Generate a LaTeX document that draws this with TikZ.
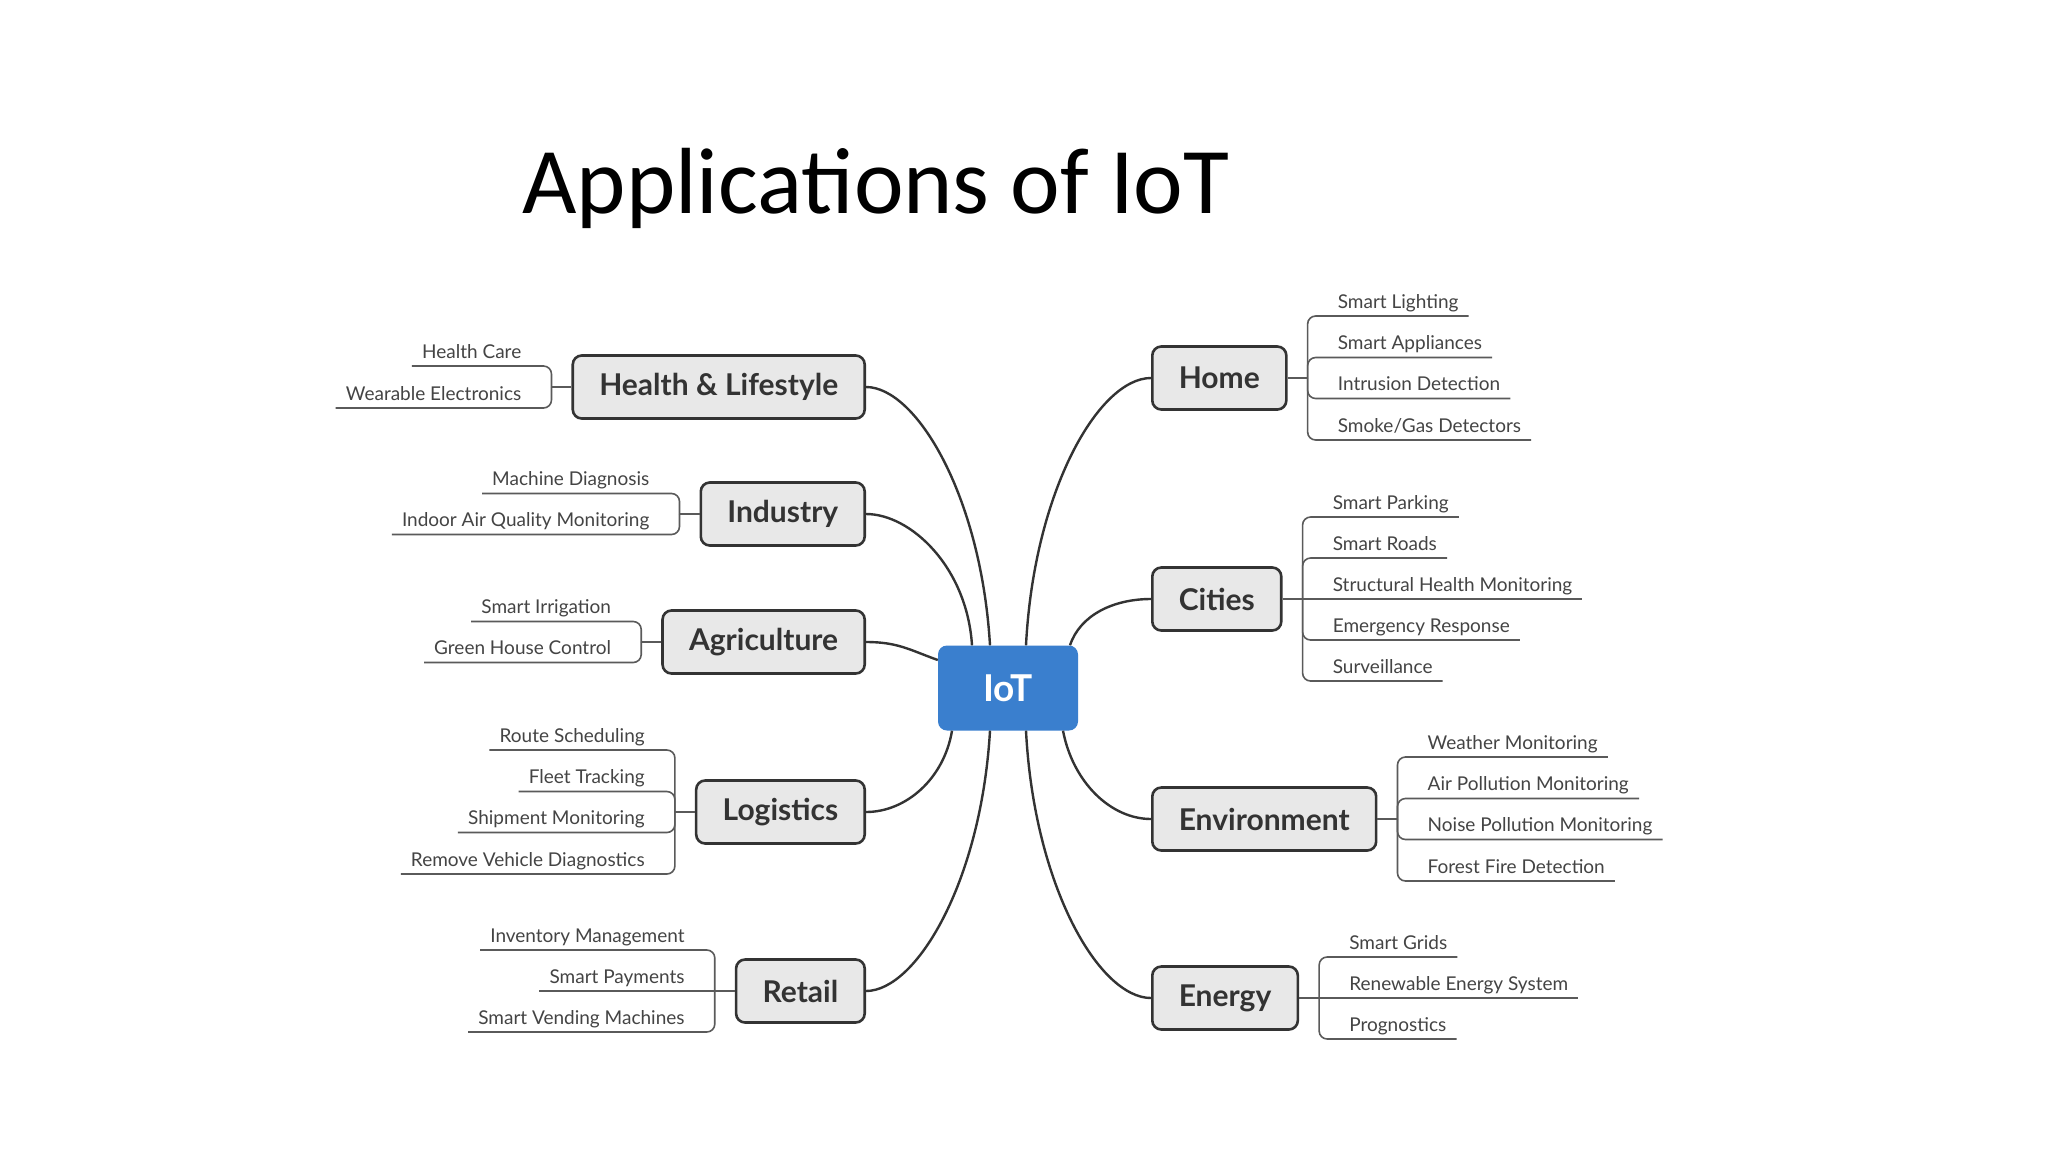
\documentclass[tikz,border=0pt]{standalone}
\usepackage{fontspec}
\setmainfont{Lato}
\newfontfamily\titlefont{Carlito}
\usetikzlibrary{calc}

\definecolor{iotblue}{HTML}{3A7FCE}
\definecolor{boxfill}{HTML}{E8E8E8}
\definecolor{ink}{HTML}{333333}
\definecolor{leafink}{HTML}{444444}
\definecolor{twigcol}{HTML}{5A5A5A}

\begin{document}
\begin{tikzpicture}[x=1pt, y=-1pt,
    hub/.style={fill=iotblue, text=white, rounded corners=9pt, minimum width=140pt, minimum height=85pt,
        font=\fontsize{37}{44}\selectfont\bfseries},
    area/.style={draw=ink, line width=2.6pt, fill=boxfill, rounded corners=9pt, minimum height=63pt,
        inner xsep=26.5pt, text=ink, font=\fontsize{30}{36}\selectfont\bfseries},
    leaf/.style={inner sep=0pt, text=leafink, font=\fontsize{19}{23}\selectfont},
    branch/.style={draw=ink, line width=2.4pt},
    twig/.style={draw=twigcol, line width=1.6pt, rounded corners=8pt}]
    \fill[white] (0,0) rectangle (2048,1152);
    \useasboundingbox (0,0) rectangle (2048,1152);

    \node[font=\titlefont\fontsize{94}{106}\selectfont, anchor=base] (title) at (876, 213) {Applications of IoT};

    \node[hub] (iot) at (1008, 688) {IoT};

    \node[area, anchor=east] (health) at (866, 387) {Health \& Lifestyle};
    \node[area, anchor=east] (industry) at (866, 514) {Industry};
    \node[area, anchor=east] (agri) at (866, 642) {Agriculture};
    \node[area, anchor=east] (logistics) at (866, 812) {Logistics};
    \node[area, anchor=east] (retail) at (866, 991) {Retail};
    \node[area, anchor=west] (home) at (1151, 378) {Home};
    \node[area, anchor=west] (cities) at (1151, 599) {Cities};
    \node[area, anchor=west] (env) at (1151, 819) {Environment};
    \node[area, anchor=west] (energy) at (1151, 998) {Energy};

    % branches out of the hub
    \draw[branch] ([xshift=-18pt]iot.north) .. controls +(-9,-150) and +(50,0) .. (health.east);
    \draw[branch] ([xshift=-36pt]iot.north) .. controls +(-5,-78) and +(45,0) .. (industry.east);
    \draw[branch] ([yshift=28pt]iot.west) .. controls +(-28,-10) and +(32,0) .. (agri.east);
    \draw[branch] ([xshift=-56pt]iot.south) .. controls +(-8,48) and +(40,0) .. (logistics.east);
    \draw[branch] ([xshift=-18pt]iot.south) .. controls +(-9,152) and +(50,0) .. (retail.east);
    \draw[branch] ([xshift=18pt]iot.north) .. controls +(8,-155) and +(-52,0) .. (home.west);
    \draw[branch] ([xshift=62pt]iot.north) .. controls +(10,-30) and +(-38,0) .. (cities.west);
    \draw[branch] ([xshift=55pt]iot.south) .. controls +(10,52) and +(-40,0) .. (env.west);
    \draw[branch] ([xshift=18pt]iot.south) .. controls +(8,155) and +(-52,0) .. (energy.west);

    % left side leaves
    \coordinate (healthb) at ([xshift=-20pt]health.west);
    \draw[twig] (health.west) -- (healthb);
    \foreach \t/\dy [count=\i] in {Health Care/-21, Wearable Electronics/21} {
        \node[leaf, anchor=base east] (health\i) at ($(healthb)+(-30,\dy-8)$) {\t};
        \draw[twig] (healthb) |- ($(health\i.base west)+(-10,8)$);
    }

    \coordinate (industryb) at ([xshift=-20pt]industry.west);
    \draw[twig] (industry.west) -- (industryb);
    \foreach \t/\dy [count=\i] in {Machine Diagnosis/-20.5, Indoor Air Quality Monitoring/20.5} {
        \node[leaf, anchor=base east] (industry\i) at ($(industryb)+(-30,\dy-8)$) {\t};
        \draw[twig] (industryb) |- ($(industry\i.base west)+(-10,8)$);
    }

    \coordinate (agrib) at ([xshift=-20pt]agri.west);
    \draw[twig] (agri.west) -- (agrib);
    \foreach \t/\dy [count=\i] in {Smart Irrigation/-20.5, Green House Control/20.5} {
        \node[leaf, anchor=base east] (agri\i) at ($(agrib)+(-30,\dy-8)$) {\t};
        \draw[twig] (agrib) |- ($(agri\i.base west)+(-10,8)$);
    }

    \coordinate (logisticsb) at ([xshift=-20pt]logistics.west);
    \draw[twig] (logistics.west) -- (logisticsb);
    \foreach \t/\dy [count=\i] in {Route Scheduling/-62, Fleet Tracking/-20.5, Shipment Monitoring/20.5,
            Remove Vehicle Diagnostics/62} {
        \node[leaf, anchor=base east] (logistics\i) at ($(logisticsb)+(-30,\dy-8)$) {\t};
        \draw[twig] (logisticsb) |- ($(logistics\i.base west)+(-10,8)$);
    }

    \coordinate (retailb) at ([xshift=-20pt]retail.west);
    \draw[twig] (retail.west) -- (retailb);
    \foreach \t/\dy [count=\i] in {Inventory Management/-41, Smart Payments/0, Smart Vending Machines/41} {
        \node[leaf, anchor=base east] (retail\i) at ($(retailb)+(-30,\dy-8)$) {\t};
        \ifdim\dy pt=0pt
            \draw[twig] (retailb) -- ($(retail\i.base west)+(-10,8)$);
        \else
            \draw[twig] (retailb) |- ($(retail\i.base west)+(-10,8)$);
        \fi
    }

    % right side leaves
    \coordinate (homeb) at ([xshift=20pt]home.east);
    \draw[twig] (home.east) -- (homeb);
    \foreach \t/\dy [count=\i] in {Smart Lighting/-62, Smart Appliances/-20.5, Intrusion Detection/20.5,
            {Smoke/Gas Detectors}/62} {
        \node[leaf, anchor=base west] (home\i) at ($(homeb)+(30,\dy-8)$) {\t};
        \draw[twig] (homeb) |- ($(home\i.base east)+(10,8)$);
    }

    \coordinate (citiesb) at ([xshift=20pt]cities.east);
    \draw[twig] (cities.east) -- (citiesb);
    \foreach \t/\dy [count=\i] in {Smart Parking/-82, Smart Roads/-41, Structural Health Monitoring/0,
            Emergency Response/41, Surveillance/82} {
        \node[leaf, anchor=base west] (cities\i) at ($(citiesb)+(30,\dy-8)$) {\t};
        \ifdim\dy pt=0pt
            \draw[twig] (citiesb) -- ($(cities\i.base east)+(10,8)$);
        \else
            \draw[twig] (citiesb) |- ($(cities\i.base east)+(10,8)$);
        \fi
    }

    \coordinate (envb) at ([xshift=20pt]env.east);
    \draw[twig] (env.east) -- (envb);
    \foreach \t/\dy [count=\i] in {Weather Monitoring/-62, Air Pollution Monitoring/-20.5,
            Noise Pollution Monitoring/20.5, Forest Fire Detection/62} {
        \node[leaf, anchor=base west] (env\i) at ($(envb)+(30,\dy-8)$) {\t};
        \draw[twig] (envb) |- ($(env\i.base east)+(10,8)$);
    }

    \coordinate (energyb) at ([xshift=20pt]energy.east);
    \draw[twig] (energy.east) -- (energyb);
    \foreach \t/\dy [count=\i] in {Smart Grids/-41, Renewable Energy System/0, Prognostics/41} {
        \node[leaf, anchor=base west] (energy\i) at ($(energyb)+(30,\dy-8)$) {\t};
        \ifdim\dy pt=0pt
            \draw[twig] (energyb) -- ($(energy\i.base east)+(10,8)$);
        \else
            \draw[twig] (energyb) |- ($(energy\i.base east)+(10,8)$);
        \fi
    }
\end{tikzpicture}
\end{document}
